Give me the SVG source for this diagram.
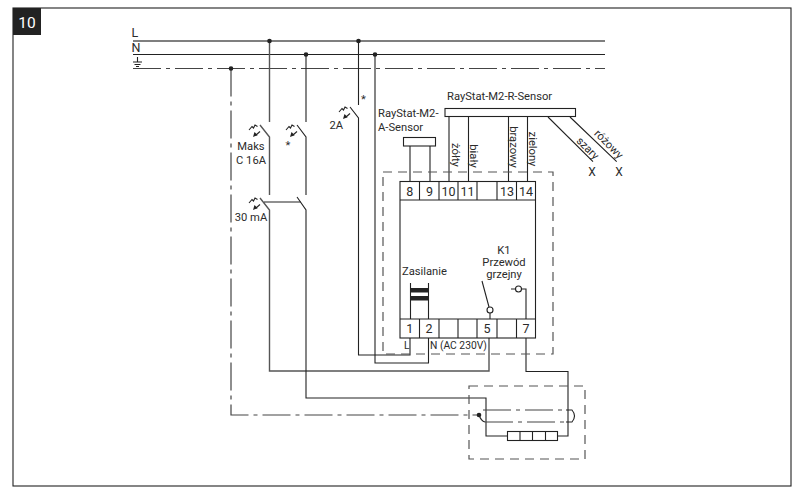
<svg xmlns="http://www.w3.org/2000/svg" width="804" height="497" viewBox="0 0 804 497">
<style>
text{font-family:Roboto,"Liberation Sans",sans-serif;font-size:11.2px;fill:#2b2b2b}
.m{text-anchor:middle}
.t{font-size:12.5px}
line,path,rect,circle{fill:none;stroke:#222;stroke-width:1.1}
.g{stroke:#555;stroke-width:1.4}
.dd{stroke:#444;stroke-width:1.2;stroke-dasharray:28 5 4 5}
.da{stroke:#555;stroke-width:1.2;stroke-dasharray:9 6}
.b{fill:#222;stroke:none}
.w{fill:#fff}
</style>
<defs>
<g id="ph">
<path d="M-11 5l3-3.500 1.500 1.500 1.500-3 2.500 1.500" stroke-width="0.9"/>
<line x1="0" y1="6.500" x2="-4" y2="10"/>
<path class="b" d="M-7 12l1.500-5 3.200 3.200z"/>
</g>
</defs>
<rect x="13" y="8" width="778" height="478" stroke="#333" stroke-width="1"/>
<g id="tag"><rect class="b" x="13" y="8" width="28" height="27"/><text class="m" x="27" y="28" style="fill:#fff;font-size:15.500px">10</text></g>

<g id="connectors">
<line class="g" x1="133" y1="41" x2="605" y2="41"/>
<line x1="133" y1="54.500" x2="605" y2="54.500"/>
<line class="dd" x1="133" y1="68.500" x2="605" y2="68.500"/>
<path d="M137.500 57V62M133 62H142M134.500 64.500H140.500M136 66.500H139" stroke-width="0.9"/>
<path class="dd" d="M231 68.500V415H479"/>
<path class="g" d="M269.500 41V122M260 125L269.500 137V195M260 198L269.500 210V371H489V338"/>
<path d="M306 54.500V122M297 125L306 137V195M297 197L306 210V398H486V436H507M557 436H568V371.500H526V338"/>
<line x1="264" y1="202" x2="300.500" y2="202"/>
<path d="M358.500 41V105M350 107L358.500 118V355H410V338"/>
<path d="M375 54.500V363H428.500V338"/>
<path class="dd" d="M483 410H566"/>
<path class="dd" d="M485 422H566"/>
<path d="M566 410H572Q577 416 572 422H566M479 415Q481 421 485 422"/>
<path d="M410 146V181M430 146V181M449 116.500V181M468.500 116.500V181M508.500 116.500V181M527.500 116.500V181"/>
<path d="M548 117L593 161.700M570 117L616.700 161.700"/>
</g>
<circle class="b" cx="269.500" cy="41" r="2.300"/>
<circle class="b" cx="306" cy="54.500" r="2.300"/>
<circle class="b" cx="231" cy="68.500" r="2.300"/>
<circle class="b" cx="358.500" cy="41" r="2.300"/>
<circle class="b" cx="375" cy="54.500" r="2.300"/>
<circle class="b" cx="479" cy="415" r="2.300"/>

<g id="breaker-16a"><use href="#ph" x="260" y="125"/><text class="m" x="251" y="150">Maks</text><text class="m" x="251" y="164">C 16A</text></g>
<g id="breaker-star"><use href="#ph" x="297" y="125"/><text class="m" x="288" y="149">*</text></g>
<g id="breaker-2a"><use href="#ph" x="350" y="107"/><text class="m" x="363.500" y="103">*</text><text x="329.500" y="129">2A</text></g>
<g id="rcd"><use href="#ph" x="260" y="198"/><text class="m" x="251" y="221">30 mA</text></g>
<g id="labels">
<text x="131.500" y="37" class="t">L</text><text x="131.500" y="52" class="t">N</text>
</g>

<g id="sensor-a"><rect x="403.500" y="137.500" width="32" height="8.500"/><text x="378" y="117">RayStat-M2-</text><text x="378" y="131">A-Sensor</text></g>
<g id="sensor-r"><rect x="445" y="108.500" width="130.500" height="8"/><text x="447" y="100">RayStat-M2-R-Sensor</text>
<text class="m" transform="translate(455.500 155) rotate(90)" y="4">żółty</text>
<text class="m" transform="translate(473.500 156) rotate(90)" y="4">biały</text>
<text class="m" transform="translate(514 147) rotate(90)" y="4">brązowy</text>
<text class="m" transform="translate(533 149) rotate(90)" y="4">zielony</text>
<text class="m" transform="translate(588 148) rotate(45)" y="4">szary</text>
<text class="m" transform="translate(609 144) rotate(45)" y="4">różowy</text>
<text class="m" x="592" y="176" style="font-size:12px">X</text><text class="m" x="619" y="176" style="font-size:12px">X</text></g>

<g id="device">
<rect class="da" x="383" y="172" width="170" height="182"/>
<rect class="w" x="400" y="181.500" width="135.500" height="156.500"/>
<path d="M400 200H535.500M400 319H535.500M419.500 181.500V200M439 181.500V200M458 181.500V200M477 181.500V200M497 181.500V200M516.500 181.500V200M419.500 319V338M439 319V338M458 319V338M477 319V338M497 319V338M516.500 319V338"/>
<g class="nums">
<text class="m t" x="409.700" y="195.500">8</text><text class="m t" x="429.500" y="195.500">9</text><text class="m t" x="448.500" y="195.500">10</text><text class="m t" x="467.500" y="195.500">11</text><text class="m t" x="507" y="195.500">13</text><text class="m t" x="526" y="195.500">14</text>
<text class="m t" x="409.700" y="333">1</text><text class="m t" x="429" y="333">2</text><text class="m t" x="487" y="333">5</text><text class="m t" x="526" y="333">7</text>
</g>
<text x="402" y="275">Zasilanie</text>
<path d="M410.500 283V319M428.500 283V319"/>
<rect class="b" x="410" y="288" width="19" height="4.500"/><rect class="b" x="410" y="296" width="19" height="4.500"/>
<text class="m" x="504" y="254">K1</text><text class="m" x="504" y="266">Przewód</text><text class="m" x="504" y="278">grzejny</text>
<path d="M482 281L489 307M490 313V319M511 289H515.500M521.500 289H526V319"/>
<circle cx="490" cy="310" r="3"/><circle cx="518.500" cy="289" r="3"/>
<text x="404" y="349" style="font-size:10.300px">L</text><text x="430" y="349" style="font-size:10.300px">N (AC 230V)</text>
</g>

<g id="heater">
<rect class="da" x="469" y="386" width="116" height="73"/>
<rect class="w" x="507.500" y="431.500" width="50" height="9"/>
<path d="M520 431.500V440.500M532.500 431.500V440.500M545.500 431.500V440.500"/>
</g>
</svg>
